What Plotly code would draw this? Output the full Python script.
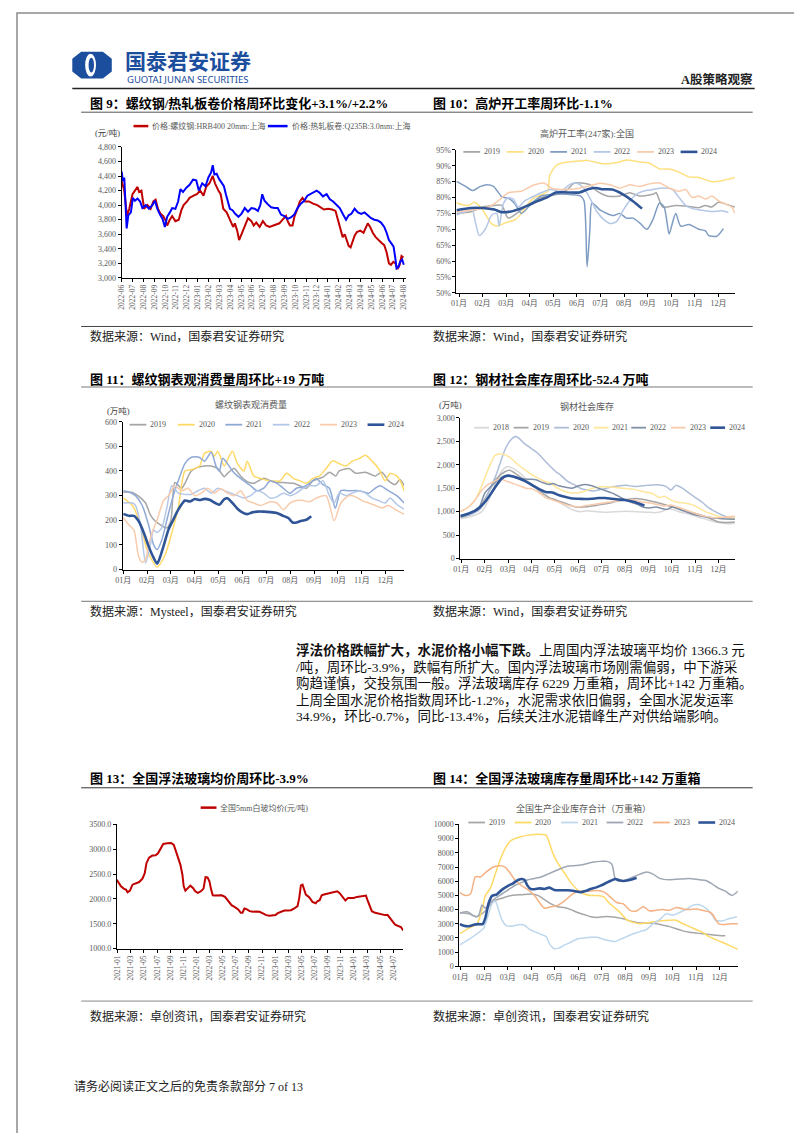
import plotly.graph_objects as go

W, H = 802, 1133
FONT = "Liberation Serif, Noto Sans CJK SC"
TICK_C = "#595959"

# ---------------- data ----------------
C9_TICKS = ["2022-06", "2022-07", "2022-08", "2022-09", "2022-10", "2022-11", "2022-12",
            "2023-01", "2023-02", "2023-03", "2023-04", "2023-05", "2023-06", "2023-07",
            "2023-08", "2023-09", "2023-10", "2023-11", "2023-12", "2024-01", "2024-02",
            "2024-03", "2024-04", "2024-05", "2024-06", "2024-07", "2024-08"]
# (months since 2022-06, price)
RB_PTS = [(0.0, 4330), (0.12, 4250), (0.24, 4200), (0.49, 3850), (0.7, 3950), (1.0, 4150), (1.22, 4200),
          (1.46, 4250), (1.61, 4180), (1.82, 4200), (2.07, 3950), (2.37, 4000), (2.67, 3950), (2.92, 4050),
          (3.13, 4075), (3.34, 3950), (3.59, 3880), (3.83, 3850), (4.04, 3790), (4.19, 3720), (4.44, 3800),
          (4.65, 3850), (4.95, 3780), (5.26, 3800), (5.5, 3930), (5.71, 4000), (6.02, 4050), (6.26, 4100),
          (6.63, 4130), (6.93, 4150), (7.23, 4200), (7.54, 4130), (7.78, 4250), (8.09, 4300), (8.39, 4400),
          (8.6, 4300), (8.91, 4200), (9.12, 4150), (9.36, 3950), (9.67, 3900), (9.97, 3800), (10.27, 3700),
          (10.43, 3750), (10.64, 3650), (10.82, 3520), (11.03, 3600), (11.34, 3720), (11.64, 3820),
          (11.95, 3780), (12.16, 3720), (12.4, 3760), (12.71, 3700), (13.01, 3780), (13.31, 3720),
          (13.62, 3700), (14.07, 3720), (14.53, 3750), (14.83, 3800), (15.14, 3850), (15.29, 3780),
          (15.5, 3720), (15.74, 3720), (15.93, 3850), (16.2, 3950), (16.41, 4050), (16.66, 4100),
          (16.9, 4050), (17.26, 4050), (17.63, 4020), (18.02, 4000), (18.33, 3970), (18.63, 3940),
          (19.03, 3950), (19.39, 3940), (19.7, 3920), (19.94, 3800), (20.15, 3700), (20.36, 3560),
          (20.55, 3600), (20.7, 3530), (20.91, 3440), (21.09, 3420), (21.28, 3500), (21.46, 3580),
          (21.67, 3630), (21.98, 3650), (22.28, 3620), (22.49, 3680), (22.67, 3750), (22.89, 3700),
          (23.13, 3620), (23.4, 3560), (23.71, 3510), (23.95, 3480), (24.19, 3450), (24.41, 3350),
          (24.62, 3200), (24.8, 3180), (25.02, 3220), (25.23, 3200), (25.41, 3120), (25.59, 3170),
          (25.78, 3300), (25.96, 3280)]
HC_PTS = [(0.0, 4460), (0.12, 4330), (0.24, 4380), (0.36, 4000), (0.46, 3680), (0.61, 3860), (0.85, 3900),
          (1.03, 4100), (1.22, 4060), (1.46, 4090), (1.7, 4050), (1.91, 3960), (2.22, 4000), (2.52, 3950),
          (2.83, 4000), (3.07, 4060), (3.28, 3950), (3.53, 3870), (3.77, 3810), (3.98, 3700), (4.19, 3840),
          (4.44, 3900), (4.65, 3960), (4.95, 3950), (5.2, 4050), (5.41, 4220), (5.65, 4180), (5.96, 4240),
          (6.26, 4280), (6.57, 4350), (6.87, 4340), (7.11, 4200), (7.42, 4300), (7.72, 4260), (7.99, 4380),
          (8.24, 4450), (8.39, 4550), (8.54, 4420), (8.75, 4430), (8.97, 4360), (9.21, 4300), (9.42, 4260),
          (9.6, 4150), (9.76, 4050), (9.97, 3950), (10.21, 3930), (10.46, 3880), (10.76, 3840),
          (11.03, 3880), (11.34, 3960), (11.64, 3910), (11.95, 3960), (12.25, 3950), (12.55, 3920),
          (12.77, 4000), (12.95, 4150), (13.16, 4060), (13.47, 4010), (13.77, 3970), (14.07, 3960),
          (14.38, 3960), (14.68, 3870), (14.98, 3850), (15.29, 3810), (15.59, 3830), (15.9, 3870),
          (16.2, 3960), (16.5, 4020), (16.81, 4060), (17.11, 4130), (17.42, 4160), (17.72, 4180),
          (17.96, 4200), (18.24, 4170), (18.54, 4120), (18.88, 4150), (19.18, 4080), (19.48, 4050),
          (19.79, 4000), (20.09, 3960), (20.4, 3870), (20.67, 3800), (20.91, 3860), (21.16, 3880),
          (21.46, 3950), (21.76, 3900), (22.07, 3880), (22.37, 3900), (22.67, 3860), (22.98, 3820),
          (23.28, 3800), (23.59, 3790), (23.89, 3760), (24.19, 3700), (24.41, 3620), (24.62, 3520),
          (24.86, 3470), (25.05, 3430), (25.2, 3280), (25.32, 3130), (25.5, 3150), (25.65, 3220),
          (25.84, 3250), (25.99, 3180)]

MONTHS = ["01月", "02月", "03月", "04月", "05月", "06月", "07月", "08月", "09月", "10月", "11月", "12月"]

# Chart 10: blast furnace utilisation (%), x = months from Jan 1
BF_2019 = [(-0.11, 75.0), (0.5, 75.5), (1.0, 77), (1.5, 77.5), (1.81, 77.5), (2.09, 73.5), (2.79, 77),
           (3.48, 80), (4.18, 81), (4.6, 82.5), (4.87, 84.5), (5.29, 84.5), (5.57, 84), (5.85, 82),
           (6.27, 80.5), (6.82, 80.5), (7.24, 81.5), (7.66, 80.5), (8.22, 81), (8.36, 81.5), (8.64, 77),
           (9.19, 77.5), (9.75, 77.2), (10.17, 76.8), (10.45, 77.5), (10.72, 77), (11.0, 78.5),
           (11.28, 78), (11.7, 77)]
BF_2020 = [(-0.11, 78.3), (0.42, 77.5), (0.63, 78.5), (0.91, 77), (1.39, 71.7), (1.6, 71.0), (1.95, 72.0),
           (2.37, 73.0), (2.65, 75.0), (2.92, 78.0), (3.2, 80.0), (3.48, 80.8), (3.76, 82.0), (3.85, 87),
           (4.11, 90.0), (4.46, 91.0), (5.15, 91.5), (5.43, 91.7), (6.13, 90.6), (6.69, 91.0), (7.1, 91.8),
           (7.66, 91.2), (8.08, 90.8), (8.5, 89.0), (8.91, 89.0), (9.33, 88.0), (9.75, 86.5),
           (10.17, 86.3), (10.72, 85.0), (11.14, 85.3), (11.7, 86.3)]
BF_2021 = [(-0.11, 85.1), (0.28, 83.5), (0.56, 82.2), (0.91, 83.5), (1.18, 84.0), (1.46, 83.5), (1.81, 80.3),
           (2.16, 79.5), (2.37, 78), (2.65, 75), (3.06, 78), (3.48, 80.5), (4.0, 81.0), (4.6, 81.0),
           (5.15, 80.5), (5.3, 79), (5.43, 58.2), (5.55, 70), (5.64, 78.3), (5.99, 76.0), (6.55, 74.3),
           (6.82, 75.0), (7.1, 73.5), (7.38, 73.5), (7.66, 72.0), (7.97, 70.0), (8.22, 73.0), (8.5, 78.3),
           (8.7, 77.0), (8.91, 68.5), (9.05, 72), (9.19, 75.0), (9.4, 71.0), (9.75, 71.5), (10.17, 70.0),
           (10.45, 69.5), (10.58, 68.1), (10.93, 67.8), (11.21, 70.2)]
BF_2022 = [(-0.11, 74.5), (0.28, 75.5), (0.56, 76), (0.7, 72), (0.86, 68), (1.11, 70), (1.39, 74.5),
           (1.6, 75), (1.7, 71), (1.88, 78), (2.09, 79.9), (2.3, 79.5), (2.51, 77), (2.79, 79), (3.06, 80),
           (3.48, 81.5), (3.9, 82.5), (4.32, 82), (4.74, 84.3), (5.01, 84.5), (5.29, 83), (5.57, 79.5),
           (5.85, 75.5), (6.13, 73.1), (6.41, 71.8), (6.69, 72.5), (6.96, 76), (7.24, 79), (7.52, 81),
           (7.8, 82), (8.22, 82.5), (8.64, 83), (9.05, 82.5), (9.33, 80), (9.61, 77.5), (9.89, 76.5),
           (10.31, 76), (10.72, 75.6), (11.14, 75.8), (11.42, 75.3)]
BF_2023 = [(-0.11, 75.5), (0.5, 76.0), (1.25, 77), (1.67, 79), (2.09, 81.5), (2.65, 82), (2.92, 83),
           (3.2, 84), (3.62, 84.5), (3.9, 83), (4.46, 82.5), (5.15, 83), (5.71, 84), (5.99, 84.5),
           (6.41, 84), (6.82, 83), (7.24, 84), (7.66, 83.5), (8.08, 84.3), (8.5, 84.6), (8.91, 83),
           (9.33, 82), (9.61, 82.5), (9.89, 80), (10.17, 80.5), (10.45, 79.5), (10.72, 80.5), (11.0, 79),
           (11.28, 78), (11.56, 77), (11.7, 75)]
BF_2024 = [(-0.11, 76.0), (0.5, 76.7), (1.0, 76.7), (1.5, 76.2), (1.8, 75.4), (2.2, 75.6), (2.6, 76.5),
           (2.95, 77.6), (3.3, 78.8), (3.75, 80.1), (4.1, 81.6), (4.6, 81.6), (5.1, 81.6), (5.5, 82.7),
           (5.8, 83.0), (6.1, 82.6), (6.5, 82.5), (6.95, 81.0), (7.35, 79.0), (7.76, 76.5)]

# Chart 11: rebar apparent consumption (万吨)
RC_2019 = [(0.01, 314), (0.39, 313), (0.66, 297), (0.94, 270), (1.14, 222), (1.35, 196), (1.55, 182),
           (1.83, 169), (2.0, 200), (2.17, 353), (2.45, 330), (2.59, 350), (2.86, 400), (3.27, 418),
           (3.69, 420), (3.96, 410), (4.24, 377), (4.37, 390), (4.65, 410), (4.92, 380), (5.2, 357),
           (5.47, 350), (5.89, 371), (6.3, 355), (6.71, 353), (7.13, 350), (7.4, 340), (7.68, 330),
           (7.95, 360), (8.37, 375), (8.64, 395), (8.91, 380), (9.05, 400), (9.46, 410), (9.74, 391),
           (10.15, 395), (10.56, 380), (10.84, 395), (11.11, 361), (11.39, 345), (11.6, 365), (11.77, 340)]
RC_2020 = [(0.01, 290), (0.39, 260), (0.66, 200), (1.0, 80), (1.14, 50), (1.42, 10), (1.76, 60),
           (2.04, 150), (2.31, 250), (2.59, 400), (2.86, 405), (3.2, 420), (3.41, 472), (3.69, 480),
           (3.82, 460), (3.96, 480), (4.24, 420), (4.44, 460), (4.58, 480), (4.79, 430), (5.06, 400),
           (5.2, 440), (5.47, 380), (5.75, 370), (6.16, 360), (6.57, 360), (6.85, 391), (7.13, 370),
           (7.4, 360), (7.68, 350), (7.95, 370), (8.23, 380), (8.5, 410), (8.78, 441), (9.05, 430),
           (9.33, 420), (9.6, 440), (9.88, 450), (10.15, 464), (10.43, 440), (10.7, 410), (10.98, 360),
           (11.18, 390), (11.46, 380), (11.66, 350), (11.77, 320)]
RC_2021 = [(0.01, 320), (0.25, 315), (0.52, 300), (0.8, 260), (1.07, 180), (1.28, 100), (1.42, 81),
           (1.62, 120), (1.83, 200), (2.1, 300), (2.38, 380), (2.59, 430), (2.86, 456), (3.2, 455),
           (3.41, 440), (3.69, 476), (3.89, 420), (4.03, 400), (4.17, 452), (4.37, 430), (4.58, 400),
           (4.79, 380), (5.06, 360), (5.34, 340), (5.61, 320), (5.89, 330), (6.16, 360), (6.44, 350),
           (6.71, 330), (6.99, 310), (7.26, 330), (7.54, 335), (7.81, 350), (8.09, 369), (8.37, 345),
           (8.64, 330), (8.89, 249), (9.12, 320), (9.46, 320), (9.88, 320), (10.29, 310), (10.56, 330),
           (10.77, 340), (11.11, 320), (11.46, 300), (11.77, 270)]
RC_2022 = [(0.01, 270), (0.39, 270), (0.52, 260), (0.73, 180), (0.94, 27), (1.14, 100), (1.28, 160),
           (1.42, 150), (1.62, 170), (1.83, 250), (2.04, 340), (2.31, 310), (2.59, 305), (2.86, 305),
           (3.14, 320), (3.41, 330), (3.69, 310), (3.96, 330), (4.24, 320), (4.51, 310), (4.79, 300),
           (5.06, 290), (5.34, 300), (5.61, 320), (5.89, 310), (6.16, 290), (6.44, 295), (6.71, 310),
           (6.99, 300), (7.26, 310), (7.54, 330), (7.81, 340), (8.09, 340), (8.37, 360), (8.64, 300),
           (8.84, 270), (9.05, 310), (9.33, 300), (9.6, 310), (9.88, 320), (10.15, 310), (10.43, 290),
           (10.7, 280), (10.98, 270), (11.18, 290), (11.46, 265), (11.77, 245)]
RC_2023 = [(0.01, 210), (0.25, 180), (0.45, 160), (0.66, 50), (0.8, 30), (0.94, 40), (1.07, 100),
           (1.21, 150), (1.42, 200), (1.69, 280), (1.9, 300), (2.17, 340), (2.45, 320), (2.72, 330),
           (3.0, 300), (3.27, 310), (3.55, 330), (3.82, 310), (4.1, 328), (4.37, 310), (4.65, 300),
           (4.92, 320), (5.2, 280), (5.47, 270), (5.75, 260), (6.16, 275), (6.44, 270), (6.71, 243),
           (6.99, 270), (7.26, 280), (7.54, 280), (7.81, 275), (8.09, 290), (8.5, 300), (8.84, 198),
           (9.12, 270), (9.46, 300), (9.74, 295), (10.01, 280), (10.29, 270), (10.56, 260), (10.84, 250),
           (11.11, 260), (11.46, 240), (11.77, 225)]
RC_2024 = [(0.01, 226), (0.25, 218), (0.45, 218), (0.66, 195), (0.87, 148), (1.07, 94), (1.28, 47),
           (1.42, 24), (1.51, 40), (1.69, 94), (1.9, 162), (2.1, 202), (2.31, 243), (2.59, 280), (2.79, 276),
           (3.0, 286), (3.2, 282), (3.41, 287), (3.62, 283), (3.82, 272), (4.03, 263), (4.24, 286),
           (4.37, 289), (4.58, 270), (4.79, 247), (4.99, 232), (5.2, 225), (5.41, 232), (5.61, 235),
           (5.89, 235), (6.16, 233), (6.44, 229), (6.71, 218), (6.92, 209), (7.1, 191), (7.26, 191),
           (7.47, 198), (7.68, 202), (7.88, 216)]

# Chart 12: steel social inventory (万吨)
SI_2018 = [(-0.04, 850), (0.45, 900), (0.87, 1000), (1.22, 1300), (1.5, 1650), (1.79, 1900), (2.0, 1960),
           (2.28, 1900), (2.56, 1800), (2.84, 1650), (3.12, 1550), (3.4, 1400), (3.68, 1300), (3.97, 1250),
           (4.25, 1180), (4.53, 1100), (4.81, 1030), (5.09, 1000), (5.37, 1020), (5.79, 1000), (6.22, 990),
           (6.64, 1000), (7.06, 1010), (7.48, 1000), (7.9, 990), (8.33, 980), (8.61, 1010), (8.89, 1060),
           (9.31, 1000), (9.73, 950), (10.15, 880), (10.58, 820), (10.86, 780), (11.14, 760), (11.42, 740),
           (11.7, 760)]
SI_2019 = [(-0.04, 880), (0.45, 950), (0.8, 1100), (1.15, 1400), (1.5, 1700), (1.86, 1850), (2.07, 1880),
           (2.35, 1800), (2.63, 1700), (2.91, 1600), (3.19, 1500), (3.47, 1400), (3.76, 1300), (4.04, 1250),
           (4.32, 1200), (4.6, 1150), (4.88, 1100), (5.23, 1100), (5.58, 1120), (5.94, 1150), (6.29, 1180),
           (6.64, 1220), (7.06, 1260), (7.48, 1280), (7.9, 1250), (8.33, 1200), (8.75, 1140), (9.03, 1100),
           (9.45, 1050), (9.87, 980), (10.3, 920), (10.72, 840), (11.0, 780), (11.28, 770), (11.7, 780)]
SI_2020 = [(-0.04, 900), (0.45, 950), (0.8, 1050), (1.15, 1400), (1.5, 1800), (1.86, 2314), (2.07, 2500),
           (2.28, 2597), (2.42, 2580), (2.7, 2450), (2.98, 2350), (3.26, 2250), (3.54, 2100), (3.83, 1950),
           (4.04, 1850), (4.25, 1780), (4.53, 1650), (4.81, 1580), (5.09, 1500), (5.37, 1460), (5.65, 1440),
           (5.94, 1470), (6.22, 1500), (6.5, 1530), (6.78, 1550), (7.06, 1560), (7.34, 1540), (7.62, 1540),
           (7.9, 1560), (8.19, 1570), (8.47, 1570), (8.75, 1540), (8.96, 1460), (9.17, 1560), (9.45, 1500),
           (9.73, 1400), (10.01, 1300), (10.3, 1200), (10.58, 1080), (10.86, 1000), (11.14, 930),
           (11.42, 880), (11.7, 860)]
SI_2021 = [(-0.04, 1000), (0.31, 1100), (0.59, 1250), (0.87, 1550), (1.15, 1900), (1.43, 2194), (1.65, 2230),
           (1.93, 2200), (2.21, 2100), (2.42, 2000), (2.7, 1900), (2.98, 1800), (3.26, 1720), (3.54, 1650),
           (3.83, 1600), (4.11, 1500), (4.39, 1440), (4.67, 1400), (4.95, 1400), (5.23, 1430), (5.51, 1480),
           (5.79, 1520), (6.08, 1530), (6.5, 1520), (6.92, 1500), (7.34, 1480), (7.76, 1430), (8.19, 1380),
           (8.47, 1300), (8.68, 1330), (8.96, 1250), (9.24, 1200), (9.59, 1180), (9.87, 1150), (10.15, 1080),
           (10.44, 1000), (10.72, 950), (11.0, 900), (11.28, 870), (11.7, 860)]
SI_2022 = [(-0.04, 920), (0.45, 980), (0.73, 1050), (1.01, 1400), (1.29, 1550), (1.5, 1650), (1.79, 1750),
           (2.0, 1780), (2.28, 1750), (2.63, 1700), (2.91, 1690), (3.19, 1680), (3.47, 1620), (3.76, 1580),
           (3.9, 1600), (4.18, 1550), (4.46, 1520), (4.74, 1500), (5.02, 1550), (5.3, 1580), (5.58, 1550),
           (5.86, 1500), (6.15, 1450), (6.43, 1400), (6.71, 1330), (6.99, 1260), (7.27, 1200), (7.55, 1150),
           (7.76, 1100), (8.04, 1080), (8.33, 1100), (8.61, 1060), (8.82, 1050), (9.03, 1100), (9.31, 1050),
           (9.59, 1000), (9.87, 950), (10.3, 900), (10.72, 870), (11.14, 850), (11.7, 840)]
SI_2023 = [(-0.04, 1000), (0.31, 1100), (0.59, 1250), (0.87, 1450), (1.15, 1580), (1.43, 1650), (1.65, 1700),
           (1.93, 1650), (2.21, 1600), (2.49, 1550), (2.77, 1500), (3.05, 1480), (3.33, 1400), (3.61, 1300),
           (3.9, 1250), (4.18, 1200), (4.46, 1150), (4.74, 1120), (5.02, 1100), (5.3, 1130), (5.58, 1150),
           (5.86, 1170), (6.15, 1190), (6.43, 1210), (6.71, 1230), (6.99, 1250), (7.27, 1260), (7.55, 1230),
           (7.83, 1200), (8.12, 1180), (8.4, 1150), (8.68, 1120), (8.96, 1140), (9.24, 1100), (9.52, 1050),
           (9.8, 1000), (10.08, 950), (10.44, 900), (10.86, 870), (11.28, 880), (11.7, 900)]
SI_2024 = [(-0.04, 900), (0.31, 960), (0.59, 1020), (0.87, 1130), (1.08, 1250), (1.29, 1400), (1.5, 1560),
           (1.72, 1700), (1.93, 1760), (2.21, 1750), (2.49, 1700), (2.77, 1640), (3.05, 1560), (3.33, 1480),
           (3.61, 1420), (3.9, 1410), (4.18, 1350), (4.46, 1310), (4.74, 1280), (5.02, 1275), (5.3, 1270),
           (5.58, 1275), (5.86, 1290), (6.15, 1290), (6.43, 1275), (6.71, 1260), (6.99, 1250), (7.27, 1220),
           (7.55, 1180), (7.83, 1130)]

# Chart 13: national 5mm float glass price (元/吨), x = months since 2021-01
C13_TICKS = ["2021-01", "2021-03", "2021-05", "2021-07", "2021-09", "2021-11", "2022-01", "2022-03",
             "2022-05", "2022-07", "2022-09", "2022-11", "2023-01", "2023-03", "2023-05", "2023-07",
             "2023-09", "2023-11", "2024-01", "2024-03", "2024-05", "2024-07"]
GLASS_PTS = [(-0.15, 2387), (0.15, 2330), (0.5, 2253), (0.91, 2207), (1.26, 2187), (1.51, 2133), (1.86, 2167),
             (2.26, 2287), (2.77, 2320), (3.27, 2340), (3.77, 2407), (4.12, 2520), (4.38, 2720), (4.78, 2833),
             (5.28, 2873), (5.78, 2880), (6.14, 2920), (6.54, 3020), (6.94, 3107), (7.55, 3120), (8.15, 3127),
             (8.55, 3087), (8.85, 2953), (9.15, 2867), (9.56, 2687), (9.86, 2487), (10.06, 2253),
             (10.31, 2167), (10.66, 2207), (11.07, 2267), (11.47, 2220), (11.82, 2153), (12.22, 2120),
             (12.68, 2153), (13.08, 2207), (13.38, 2440), (13.68, 2433), (13.98, 2353), (14.24, 2187),
             (14.49, 2073), (14.84, 2067), (15.34, 2067), (15.85, 2073), (16.35, 2040), (16.85, 1953),
             (17.35, 1873), (17.86, 1833), (18.36, 1787), (18.76, 1720), (19.01, 1720), (19.32, 1807),
             (19.62, 1793), (20.12, 1753), (20.62, 1740), (21.13, 1747), (21.63, 1740), (22.13, 1707),
             (22.64, 1673), (23.14, 1660), (23.64, 1660), (24.04, 1673), (24.4, 1713), (24.9, 1740),
             (25.4, 1767), (25.91, 1767), (26.41, 1773), (26.91, 1807), (27.41, 1853), (27.67, 2020),
             (27.92, 2273), (28.17, 2287), (28.42, 2187), (28.67, 2087), (29.18, 2033), (29.68, 1940),
             (30.18, 1913), (30.43, 1953), (30.78, 1973), (31.09, 2073), (31.44, 2087), (31.94, 2107),
             (32.44, 2120), (32.95, 2140), (33.45, 2153), (33.8, 2120), (34.21, 2053), (34.71, 1967),
             (35.11, 2020), (35.51, 2020), (35.97, 2020), (36.47, 2040), (36.97, 2047), (37.47, 2060),
             (37.83, 2067), (38.13, 1953), (38.48, 1853), (38.73, 1753), (39.24, 1720), (39.74, 1700),
             (40.24, 1687), (40.74, 1673), (41.15, 1673), (41.5, 1620), (41.85, 1553), (42.25, 1487),
             (42.76, 1453), (43.16, 1433), (43.51, 1366)]

# Chart 14: float glass inventory (万重箱)
GI_2019 = [(-0.03, 3800), (0.35, 3700), (0.7, 3500), (1.05, 3900), (1.4, 4600), (1.75, 4800), (2.16, 5000),
           (2.58, 5050), (3.0, 5100), (3.28, 5000), (3.56, 4700), (3.84, 4400), (4.12, 4200), (4.4, 4150),
           (4.68, 4000), (4.96, 3800), (5.24, 3650), (5.52, 3500), (5.8, 3450), (6.08, 3500), (6.35, 3500),
           (6.63, 3450), (6.91, 3350), (7.19, 3200), (7.47, 3100), (7.75, 3050), (8.03, 3050), (8.31, 3000),
           (8.59, 2900), (8.87, 2800), (9.15, 2650), (9.43, 2500), (9.71, 2400), (9.99, 2350), (10.27, 2300),
           (10.54, 2250), (10.82, 2200), (11.24, 2150)]
GI_2020 = [(-0.03, 2300), (0.35, 2700), (0.7, 3000), (0.84, 3600), (0.98, 4500), (1.05, 5000), (1.26, 5500),
           (1.47, 6500), (1.68, 7500), (1.89, 8300), (2.09, 8800), (2.3, 9000), (2.58, 9150), (2.86, 9250),
           (3.14, 9300), (3.42, 9300), (3.63, 9250), (3.77, 8700), (3.91, 8000), (4.12, 7300), (4.4, 6600),
           (4.68, 5900), (4.96, 5400), (5.24, 5100), (5.52, 5000), (5.8, 5000), (6.08, 4900), (6.28, 4500),
           (6.49, 4200), (6.77, 3800), (7.05, 3300), (7.33, 3100), (7.61, 3000), (8.03, 3100), (8.45, 3200),
           (8.87, 3250), (9.15, 3250), (9.43, 3000), (9.71, 2800), (9.99, 2600), (10.27, 2400), (10.54, 2100),
           (10.82, 1900), (11.1, 1700), (11.38, 1500), (11.77, 1200)]
GI_2021 = [(-0.03, 1520), (0.35, 1900), (0.7, 2300), (0.98, 2700), (1.19, 3700), (1.33, 4400), (1.47, 4610),
           (1.61, 4000), (1.75, 3300), (1.96, 2850), (2.23, 2850), (2.51, 2950), (2.72, 2900), (2.93, 2600),
           (3.21, 2400), (3.42, 2250), (3.63, 2100), (3.77, 1600), (3.98, 1240), (4.19, 1300), (4.4, 1500),
           (4.68, 1700), (4.96, 1950), (5.24, 2000), (5.52, 2050), (5.8, 2050), (6.08, 1900), (6.35, 1800),
           (6.56, 1750), (6.77, 1900), (7.05, 2100), (7.33, 2300), (7.61, 2450), (7.89, 2600), (8.17, 3000),
           (8.45, 3300), (8.73, 3700), (9.01, 3600), (9.29, 3800), (9.57, 4000), (9.85, 4300), (10.13, 4350),
           (10.41, 4100), (10.68, 3600), (10.82, 3250), (11.1, 3200), (11.38, 3350), (11.73, 3500)]
GI_2022 = [(-0.03, 3750), (0.28, 3850), (0.63, 3500), (0.77, 3600), (0.91, 4330), (1.05, 4100), (1.26, 4500),
           (1.47, 4800), (1.75, 5100), (2.03, 5400), (2.3, 5700), (2.58, 5900), (2.86, 6100), (3.14, 6200),
           (3.42, 6300), (3.7, 6500), (3.98, 6700), (4.26, 6900), (4.54, 7050), (4.82, 7100), (5.1, 7150),
           (5.38, 7250), (5.66, 7350), (5.94, 7400), (6.22, 7400), (6.42, 7200), (6.56, 6200), (6.7, 6000),
           (7.05, 6100), (7.33, 6300), (7.61, 6500), (7.89, 6650), (8.17, 6500), (8.45, 6200), (8.87, 6100),
           (9.29, 6150), (9.71, 6200), (10.13, 6100), (10.41, 6050), (10.68, 5800), (10.96, 5500),
           (11.24, 5300), (11.52, 5000), (11.77, 5300)]
GI_2023 = [(-0.03, 5200), (0.21, 5000), (0.42, 5100), (0.63, 6320), (0.84, 6300), (1.12, 6700), (1.4, 7000),
           (1.68, 7100), (1.89, 7000), (2.09, 6600), (2.3, 6100), (2.58, 5700), (2.86, 5400), (3.14, 5000),
           (3.35, 4500), (3.56, 4100), (3.84, 4200), (4.12, 4300), (4.4, 4600), (4.68, 5000), (4.96, 5300),
           (5.24, 5300), (5.52, 5300), (5.8, 5350), (6.08, 5250), (6.35, 4900), (6.63, 4500), (6.91, 4400),
           (7.19, 3950), (7.47, 3900), (7.75, 4200), (8.03, 3900), (8.31, 3950), (8.59, 4000), (8.87, 3950),
           (9.15, 4150), (9.43, 4050), (9.71, 4000), (9.99, 4050), (10.27, 3950), (10.54, 3850),
           (10.68, 3700), (10.96, 3000), (11.24, 2950), (11.52, 3000), (11.77, 3000)]
GI_2024 = [(-0.03, 2975), (0.14, 2860), (0.35, 2830), (0.56, 2930), (0.77, 2975), (0.94, 2975), (1.05, 3400),
           (1.19, 4450), (1.33, 4965), (1.54, 5080), (1.75, 5390), (2.03, 5690), (2.23, 5855), (2.44, 6090),
           (2.61, 6160), (2.72, 6090), (2.84, 5690), (2.97, 5457), (3.14, 5433), (3.35, 5500), (3.56, 5457),
           (3.77, 5550), (3.98, 5390), (4.26, 5363), (4.54, 5363), (4.82, 5316), (5.1, 5222), (5.31, 5316),
           (5.52, 5457), (5.73, 5550), (5.94, 5690), (6.15, 5855), (6.35, 6020), (6.56, 6160), (6.7, 6090),
           (6.91, 6020), (7.12, 6065), (7.33, 6160), (7.47, 6250)]

# ---------------- figure ----------------
fig = go.Figure()
shapes = []
annots = []


def X(p):
    return p / W


def Y(p):
    return 1 - p / H


def text(x, y, s, size=12, color="#000", anchor="left", bold=False, family=FONT):
    annots.append(dict(x=X(x), y=Y(y), xref="paper", yref="paper", text=("<b>%s</b>" % s) if bold else s,
                       showarrow=False, xanchor=anchor, yanchor="middle",
                       font=dict(size=size, color=color, family=family)))


def hline(x0, x1, y, color="#444", width=1):
    shapes.append(dict(type="line", xref="paper", yref="paper", x0=X(x0), x1=X(x1), y0=Y(y), y1=Y(y),
                       line=dict(color=color, width=width)))


def setup(n, box, xr, yr, xtv, xtt, ytv, ytt, xangle=0, xsize=8):
    x0, x1, y0, y1 = box
    sfx = "" if n == 1 else str(n)
    axis_common = dict(showline=True, linecolor="#000", linewidth=1, ticks="outside", ticklen=3,
                       tickcolor="#000", showgrid=False, zeroline=False, fixedrange=True)
    fig.update_layout(**{
        "xaxis" + sfx: dict(domain=[X(x0), X(x1)], range=xr, anchor="y" + sfx, tickmode="array",
                            tickvals=xtv, ticktext=xtt, tickangle=xangle,
                            tickfont=dict(size=xsize, color=TICK_C, family=FONT), **axis_common),
        "yaxis" + sfx: dict(domain=[Y(y1), Y(y0)], range=yr, anchor="x" + sfx, tickmode="array",
                            tickvals=ytv, ticktext=ytt,
                            tickfont=dict(size=8, color=TICK_C, family=FONT), **axis_common),
    })


def series(n, pts, color, width, shape="spline"):
    sfx = "" if n == 1 else str(n)
    xs = [p[0] for p in pts]
    ys = [p[1] for p in pts]
    line = dict(color=color, width=width, shape=shape)
    if shape == "spline":
        line["smoothing"] = 0.7
    fig.add_trace(go.Scatter(x=xs, y=ys, mode="lines", line=line, xaxis="x" + sfx, yaxis="y" + sfx,
                             showlegend=False, hoverinfo="skip"))


def legend_item(x, y, length, color, width, label, size=8):
    shapes.append(dict(type="line", xref="paper", yref="paper", x0=X(x), x1=X(x + length), y0=Y(y), y1=Y(y),
                       line=dict(color=color, width=width)))
    text(x + length + 2, y, label, size=size, color=TICK_C)


MIDX = list(range(12))

# ---- Chart 9 ----
setup(1, (107, 395, 136, 268), [0, 26.2], [3000, 4800], list(range(27)), C9_TICKS,
      list(range(3000, 4801, 200)), ["{:,}".format(v) for v in range(3000, 4801, 200)], xangle=-90, xsize=7.5)
series(1, RB_PTS, "#c00000", 2, shape="linear")
series(1, HC_PTS, "#0000ff", 2, shape="linear")
legend_item(119, 115, 15, "#c00000", 2.5, "价格:螺纹钢:HRB400 20mm:上海")
legend_item(255, 115, 20, "#0000ff", 2.5, "价格:热轧板卷:Q235B:3.0mm:上海")
text(93, 122, "(元/吨)", size=8.5, color="#404040", anchor="center")

# ---- Chart 10 ----
C10_COL = {"2019": "#a6a6a6", "2020": "#ffe07f", "2021": "#7f9cc2", "2022": "#b4c7e7", "2023": "#f8cbad",
           "2024": "#2f5597"}
setup(2, (446, 728, 139, 283), [-0.11, 11.7], [50, 95], MIDX, MONTHS,
      list(range(50, 96, 5)), ["%d%%" % v for v in range(50, 96, 5)], xsize=8)
for yr, pts in [("2019", BF_2019), ("2020", BF_2020), ("2021", BF_2021), ("2022", BF_2022),
                ("2023", BF_2023), ("2024", BF_2024)]:
    series(2, pts, C10_COL[yr], 2.6 if yr == "2024" else 1.5)
for x, yr in zip([453, 497, 541, 585, 629, 673], ["2019", "2020", "2021", "2022", "2023", "2024"]):
    legend_item(x, 141, 17, C10_COL[yr], 2.6 if yr == "2024" else 1.8, yr)
text(578, 122, "高炉开工率(247家):全国", size=9, color=TICK_C, anchor="center")

# ---- Chart 11 ----
C11_COL = {"2019": "#a6a6a6", "2020": "#ffd966", "2021": "#8ea9d6", "2022": "#b4c7e7", "2023": "#f8cbad",
           "2024": "#2f5597"}
setup(3, (108, 393, 413, 562), [-0.02, 11.77], [0, 600], MIDX, MONTHS,
      list(range(0, 601, 100)), [str(v) for v in range(0, 601, 100)], xsize=8)
for yr, pts in [("2019", RC_2019), ("2020", RC_2020), ("2021", RC_2021), ("2022", RC_2022),
                ("2023", RC_2023), ("2024", RC_2024)]:
    series(3, pts, C11_COL[yr], 2.6 if yr == "2024" else 1.5)
for x, yr in zip([115, 164, 212, 260, 308, 356], ["2019", "2020", "2021", "2022", "2023", "2024"]):
    legend_item(x, 416, 17, C11_COL[yr], 2.6 if yr == "2024" else 1.8, yr)
text(238, 396, "螺纹钢表观消费量", size=9, color=TICK_C, anchor="center")
text(104, 402, "(万吨)", size=8.5, color="#404040", anchor="center")

# ---- Chart 12 ----
C12_COL = {"2018": "#d9d9d9", "2019": "#a6a6a6", "2020": "#adbdd8", "2021": "#ffe699", "2022": "#7f8fa6",
           "2023": "#f8cbad", "2024": "#2f5597"}
setup(4, (450, 728, 409, 551), [-0.04, 11.7], [0, 3000], MIDX, MONTHS,
      list(range(0, 3001, 500)), ["{:,}".format(v) for v in range(0, 3001, 500)], xsize=8)
for yr, pts in [("2018", SI_2018), ("2019", SI_2019), ("2020", SI_2020), ("2021", SI_2021),
                ("2022", SI_2022), ("2023", SI_2023), ("2024", SI_2024)]:
    series(4, pts, C12_COL[yr], 2.6 if yr == "2024" else 1.5)
for x, yr in zip([464, 504, 545, 585, 623, 663, 703], ["2018", "2019", "2020", "2021", "2022", "2023", "2024"]):
    legend_item(x, 419, 15, C12_COL[yr], 2.6 if yr == "2024" else 1.8, yr)
text(578, 398, "钢材社会库存", size=9, color=TICK_C, anchor="center")
text(440, 396, "(万吨)", size=8.5, color="#404040", anchor="center")

# ---- Chart 13 ----
setup(5, (102, 392, 819, 944), [-0.15, 43.5], [1000, 3500], list(range(0, 43, 2)), C13_TICKS,
      list(range(1000, 3501, 500)), ["%.1f" % v for v in range(1000, 3501, 500)], xangle=-90, xsize=7.5)
series(5, GLASS_PTS, "#c00000", 2, shape="linear")
legend_item(187, 802, 16, "#c00000", 2.5, "全国5mm白玻均价(元/吨)")

# ---- Chart 14 ----
C14_COL = {"2019": "#a6a6a6", "2020": "#ffd966", "2021": "#bdd7ee", "2022": "#9ea7b3", "2023": "#f4b183",
           "2024": "#2f5597"}
setup(6, (449, 731, 819, 962), [-0.05, 11.77], [0, 10000], MIDX, MONTHS,
      list(range(0, 10001, 1000)), [str(v) for v in range(0, 10001, 1000)], xsize=8)
for yr, pts in [("2019", GI_2019), ("2020", GI_2020), ("2021", GI_2021), ("2022", GI_2022),
                ("2023", GI_2023), ("2024", GI_2024)]:
    series(6, pts, C14_COL[yr], 2.6 if yr == "2024" else 1.5)
for x, yr in zip([458, 505, 552, 598, 645, 691], ["2019", "2020", "2021", "2022", "2023", "2024"]):
    legend_item(x, 817, 17, C14_COL[yr], 2.6 if yr == "2024" else 1.8, yr)
text(575, 803, "全国生产企业库存合计（万重箱）", size=9, color=TICK_C, anchor="center")

# ---------------- page furniture ----------------
# page frame
shapes.append(dict(type="rect", xref="paper", yref="paper", x0=X(1), x1=X(801), y0=Y(1132), y1=Y(1),
                   line=dict(color="#8c8c8c", width=1.5), fillcolor="rgba(0,0,0,0)"))
# logo
shapes.append(dict(type="path", xref="paper", yref="paper",
                   path="M %f %f L %f %f L %f %f L %f %f L %f %f L %f %f L %f %f L %f %f Z" % (
                       X(66), Y(40), X(88), Y(40), X(97), Y(47), X(97), Y(60),
                       X(88), Y(67), X(66), Y(67), X(57), Y(60), X(57), Y(47)),
                   fillcolor="#1c4e9e", line=dict(width=0)))
shapes.append(dict(type="circle", xref="paper", yref="paper", x0=X(70), x1=X(81), y0=Y(65), y1=Y(42),
                   fillcolor="#ffffff", line=dict(width=0)))
shapes.append(dict(type="circle", xref="paper", yref="paper", x0=X(73.5), x1=X(79), y0=Y(61), y1=Y(46),
                   fillcolor="#1c4e9e", line=dict(width=0)))
text(108, 48, "国泰君安证券", size=21, color="#1c4e9e", bold=True, family="Noto Sans CJK SC")
text(110, 68, "GUOTAI JUNAN SECURITIES", size=9.5, color="#1c4e9e", family="Noto Sans, Liberation Sans")
text(748, 68, "A股策略观察", size=12.5, color="#222", anchor="right", bold=True)
hline(57, 748, 77, color="#222", width=1.5)

# row titles and rules
text(73, 92, "图 9：螺纹钢/热轧板卷价格周环比变化+3.1%/+2.2%", size=13, bold=True)
text(420, 92, "图 10：高炉开工率周环比-1.1%", size=13, bold=True)
hline(66, 746, 101, color="#555")
hline(66, 746, 317, color="#444")
text(73, 327, "数据来源：Wind，国泰君安证券研究", size=12, color="#222")
text(420, 327, "数据来源：Wind，国泰君安证券研究", size=12, color="#222")

text(73, 370, "图 11：螺纹钢表观消费量周环比+19 万吨", size=13, bold=True)
text(420, 370, "图 12：钢材社会库存周环比-52.4 万吨", size=13, bold=True)
hline(66, 746, 378, color="#777")
hline(66, 746, 594, color="#777")
text(73, 604, "数据来源：Mysteel，国泰君安证券研究", size=12, color="#222")
text(420, 604, "数据来源：Wind，国泰君安证券研究", size=12, color="#222")

# body paragraph
BODY = ["<b>浮法价格跌幅扩大，水泥价格小幅下跌。</b>上周国内浮法玻璃平均价 1366.3 元",
        "/吨，周环比-3.9%，跌幅有所扩大。国内浮法玻璃市场刚需偏弱，中下游采",
        "购趋谨慎，交投氛围一般。浮法玻璃库存 6229 万重箱，周环比+142 万重箱。",
        "上周全国水泥价格指数周环比-1.2%，水泥需求依旧偏弱，全国水泥发运率",
        "34.9%，环比-0.7%，同比-13.4%，后续关注水泥错峰生产对供给端影响。"]
for i, line in enumerate(BODY):
    text(282, 643 + i * 16.8, line, size=13.5, color="#111")

text(73, 773, "图 13：全国浮法玻璃均价周环比-3.9%", size=13, bold=True)
text(420, 773, "图 14：全国浮法玻璃库存量周环比+142 万重箱", size=13, bold=True)
hline(66, 746, 782, color="#333")
hline(66, 746, 997, color="#888")
text(73, 1013, "数据来源：卓创资讯，国泰君安证券研究", size=12, color="#222")
text(420, 1013, "数据来源：卓创资讯，国泰君安证券研究", size=12, color="#222")

text(57, 1083, "请务必阅读正文之后的免责条款部分 7 of 13", size=12, color="#222")

fig.update_layout(width=W, height=H, margin=dict(l=0, r=0, t=0, b=0), paper_bgcolor="#ffffff",
                  plot_bgcolor="rgba(0,0,0,0)", showlegend=False, shapes=shapes, annotations=annots,
                  font=dict(family=FONT))
fig.write_html("out.html")
